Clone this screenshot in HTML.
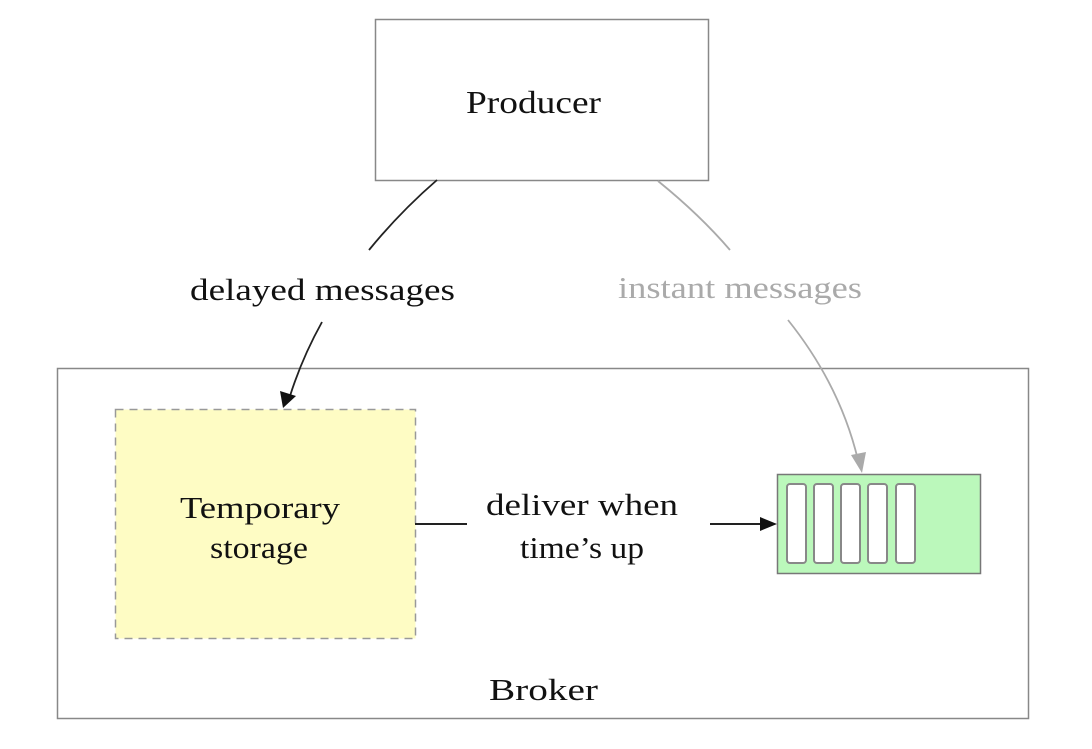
<!DOCTYPE html>
<html><head><style>
body{margin:0;background:#fff;}
svg text{font-family:"Liberation Serif",serif;}
</style></head><body>
<svg width="1092" height="744" viewBox="0 0 1092 744" xmlns="http://www.w3.org/2000/svg">
<rect x="375.5" y="19.5" width="333" height="161" fill="#fff" stroke="#888" stroke-width="1.5"/>
<text x="466" y="113" font-size="32" textLength="135" lengthAdjust="spacingAndGlyphs" fill="#111">Producer</text>
<rect x="57.5" y="368.5" width="971" height="350" fill="#fff" stroke="#888" stroke-width="1.5"/>
<text x="489" y="700" font-size="31" textLength="109" lengthAdjust="spacingAndGlyphs" fill="#111">Broker</text>
<rect x="115.5" y="409.5" width="300" height="229" fill="#fefcc4" stroke="#999" stroke-width="1.5" stroke-dasharray="8,6"/>
<text x="180" y="518" font-size="31" textLength="160" lengthAdjust="spacingAndGlyphs" fill="#111">Temporary</text>
<text x="210" y="558" font-size="31" textLength="98" lengthAdjust="spacingAndGlyphs" fill="#111">storage</text>
<rect x="777.5" y="474.5" width="203" height="99" fill="#bbf8bb" stroke="#777" stroke-width="1.5"/>
<g fill="#fff" stroke="#888" stroke-width="2">
<rect x="787" y="484" width="19" height="79" rx="3"/>
<rect x="814" y="484" width="19" height="79" rx="3"/>
<rect x="841" y="484" width="19" height="79" rx="3"/>
<rect x="868" y="484" width="19" height="79" rx="3"/>
<rect x="896" y="484" width="19" height="79" rx="3"/>
</g>
<path d="M437 180 Q400 212 369 250" fill="none" stroke="#222" stroke-width="1.8"/>
<text x="190" y="300" font-size="31" textLength="265" lengthAdjust="spacingAndGlyphs" fill="#111">delayed messages</text>
<path d="M322 322 Q302 358 290 396" fill="none" stroke="#222" stroke-width="1.8"/>
<polygon points="283,408 280,391 296,396" fill="#111"/>
<path d="M658 181 Q700 215 730 250" fill="none" stroke="#aaa" stroke-width="1.8"/>
<text x="618" y="298" font-size="31" textLength="244" lengthAdjust="spacingAndGlyphs" fill="#aaa">instant messages</text>
<path d="M788 320 Q840 385 858 460" fill="none" stroke="#aaa" stroke-width="1.8"/>
<polygon points="862,473 851,455 866,452" fill="#aaa"/>
<line x1="415" y1="524" x2="467" y2="524" stroke="#222" stroke-width="2"/>
<text x="486" y="515" font-size="31" textLength="192" lengthAdjust="spacingAndGlyphs" fill="#111">deliver when</text>
<text x="520" y="558" font-size="31" textLength="124" lengthAdjust="spacingAndGlyphs" fill="#111">time’s up</text>
<line x1="710" y1="524" x2="762" y2="524" stroke="#222" stroke-width="2"/>
<polygon points="777,524 760,517 760,531" fill="#111"/>
</svg>
</body></html>
